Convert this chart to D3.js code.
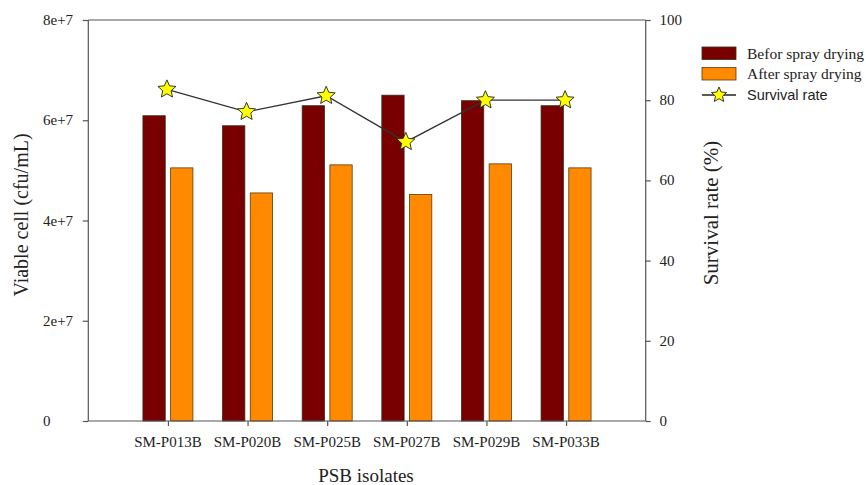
<!DOCTYPE html>
<html>
<head>
<meta charset="utf-8">
<script src="https://cdn.jsdelivr.net/npm/d3@7"></script>
<style>
  html, body { margin: 0; padding: 0; background: #fff; }
  svg { display: block; }
</style>
</head>
<body>
<svg id="chart" width="866" height="485"></svg>
<script>
// Viable cell counts of PSB isolates before and after spray drying
const isolates = ["SM-P013B", "SM-P020B", "SM-P025B", "SM-P027B", "SM-P029B", "SM-P033B"];
const beforeDrying = [6.09e7, 5.89e7, 6.29e7, 6.50e7, 6.39e7, 6.29e7];
const afterDrying  = [5.05e7, 4.55e7, 5.11e7, 4.52e7, 5.13e7, 5.05e7];
const survivalRate = [82.7, 77.1, 81.1, 69.6, 80.0, 80.0];
const leftTicks  = [0, 2e7, 4e7, 6e7, 8e7];
const leftTickLabels = ["0", "2e+7", "4e+7", "6e+7", "8e+7"];
const rightTicks = [0, 20, 40, 60, 80, 100];
const legendLabels = ["Befor spray drying", "After spray drying", "Survival rate"];

const svg = d3.select("#chart");
const plot = { left: 88.3, right: 645.7, top: 20, bottom: 421 };
const serif = "'Liberation Serif', 'Times New Roman', serif";
const sans = "'Liberation Sans', Arial, sans-serif";
const axisColor = "#555";
const darkRed = "#780000";
const orange = "#ff8a00";

// isolate i sits at position i + 1 on a 0..7 axis
const x = d3.scaleLinear().domain([0, 7]).range([plot.left, plot.right]);
const yCells = d3.scaleLinear().domain([0, 8e7]).range([plot.bottom, plot.top]);
const yRate = d3.scaleLinear().domain([0, 100]).range([plot.bottom, plot.top]);

const barW = 22.3, gap = 2.7;

// bars
const g = svg.append("g");
g.selectAll("rect.before").data(beforeDrying).join("rect")
  .attr("class", "before")
  .attr("x", (d, i) => x(i + 1) - gap - barW)
  .attr("y", d => yCells(d))
  .attr("width", barW)
  .attr("height", d => yCells(0) - yCells(d))
  .attr("fill", darkRed).attr("stroke", "#3a2a1a").attr("stroke-width", 0.8);

g.selectAll("rect.after").data(afterDrying).join("rect")
  .attr("class", "after")
  .attr("x", (d, i) => x(i + 1) + gap)
  .attr("y", d => yCells(d))
  .attr("width", barW)
  .attr("height", d => yCells(0) - yCells(d))
  .attr("fill", orange).attr("stroke", "#5a3a10").attr("stroke-width", 0.8);

// frame and axes
const axisG = svg.append("g").attr("font-family", serif).attr("font-size", 15).attr("fill", "#222");
axisG.append("line").attr("x1", plot.left).attr("x2", plot.right).attr("y1", plot.top).attr("y2", plot.top)
  .attr("stroke", axisColor).attr("stroke-width", 1.2);

const leftAxis = svg.append("g").attr("transform", `translate(${plot.left},0)`)
  .call(d3.axisLeft(yCells).tickValues(leftTicks).tickSize(5.5).tickFormat(""));
const rightAxis = svg.append("g").attr("transform", `translate(${plot.right},0)`)
  .call(d3.axisRight(yRate).tickValues(rightTicks).tickSize(5).tickFormat(""));
const bottomAxis = svg.append("g").attr("transform", `translate(0,${plot.bottom})`)
  .call(d3.axisBottom(x).tickValues(d3.range(1, isolates.length + 1)).tickSize(5).tickFormat(""));
[leftAxis, rightAxis, bottomAxis].forEach(a => {
  a.select(".domain").attr("stroke", axisColor).attr("stroke-width", 1.2);
  a.selectAll(".tick line").attr("stroke", axisColor).attr("stroke-width", 1.2);
});
bottomAxis.select(".domain").attr("d", `M${plot.left},0H${plot.right}`);
leftAxis.select(".domain").attr("d", `M0,${plot.top}V${plot.bottom}`);
rightAxis.select(".domain").attr("d", `M0,${plot.top}V${plot.bottom}`);

// tick labels
axisG.selectAll("text.lt").data(leftTicks).join("text")
  .attr("x", 43).attr("y", d => yCells(d) + 5)
  .attr("text-anchor", "start")
  .text((d, i) => leftTickLabels[i]);
axisG.selectAll("text.rt").data(rightTicks).join("text")
  .attr("x", 659.5).attr("y", d => yRate(d) + 5)
  .attr("text-anchor", "start")
  .text(d => d);
axisG.selectAll("text.bt").data(isolates).join("text")
  .attr("x", (d, i) => x(i + 1)).attr("y", 446.5)
  .attr("text-anchor", "middle")
  .text(d => d);

// axis titles
axisG.append("text").attr("font-size", 20)
  .attr("transform", "translate(28,215) rotate(-90)")
  .attr("text-anchor", "middle").text("Viable cell (cfu/mL)");
axisG.append("text").attr("font-size", 21)
  .attr("transform", "translate(718,213) rotate(-90)")
  .attr("text-anchor", "middle").text("Survival rate (%)");
axisG.append("text").attr("font-size", 19)
  .attr("x", 366).attr("y", 482)
  .attr("text-anchor", "middle").text("PSB isolates");

// five-pointed star outline
function starPath(r, ri) {
  const pts = [];
  for (let k = 0; k < 10; k++) {
    const a = -Math.PI / 2 + k * Math.PI / 5;
    const rr = k % 2 === 0 ? r : ri;
    pts.push([rr * Math.cos(a), rr * Math.sin(a)]);
  }
  return "M" + pts.map(p => p.join(",")).join("L") + "Z";
}
const star = starPath(9.5, 4.4);

// survival rate line with star markers
const line = d3.line().x((d, i) => x(i + 1) - 1).y(d => yRate(d));
svg.append("path").datum(survivalRate)
  .attr("d", line).attr("fill", "none").attr("stroke", "#333").attr("stroke-width", 1.3);
svg.selectAll("path.star").data(survivalRate).join("path")
  .attr("class", "star")
  .attr("d", star)
  .attr("transform", (d, i) => `translate(${x(i + 1) - 1},${yRate(d)})`)
  .attr("fill", "#ffff00").attr("stroke", "#222").attr("stroke-width", 0.9);

// legend
const lg = svg.append("g");
const swX = 702, swW = 34, swH = 12.5;
lg.append("rect").attr("x", swX).attr("y", 47).attr("width", swW).attr("height", swH)
  .attr("fill", darkRed).attr("stroke", "#3a2a1a").attr("stroke-width", 0.8);
lg.append("rect").attr("x", swX).attr("y", 67.5).attr("width", swW).attr("height", swH)
  .attr("fill", orange).attr("stroke", "#5a3a10").attr("stroke-width", 0.8);
lg.append("line").attr("x1", swX).attr("x2", swX + swW).attr("y1", 95).attr("y2", 95)
  .attr("stroke", "#222").attr("stroke-width", 1.3);
lg.append("path").attr("d", starPath(8, 3.7))
  .attr("transform", `translate(${swX + swW / 2},95)`)
  .attr("fill", "#ffff00").attr("stroke", "#222").attr("stroke-width", 0.9);
lg.append("text").attr("x", 747).attr("y", 58.5).attr("font-family", serif).attr("font-size", 15.5)
  .attr("fill", "#222").text(legendLabels[0]);
lg.append("text").attr("x", 747).attr("y", 79).attr("font-family", serif).attr("font-size", 15.5)
  .attr("fill", "#222").text(legendLabels[1]);
lg.append("text").attr("x", 747).attr("y", 100).attr("font-family", sans).attr("font-size", 14.5)
  .attr("fill", "#222").text(legendLabels[2]);
</script>
</body>
</html>
